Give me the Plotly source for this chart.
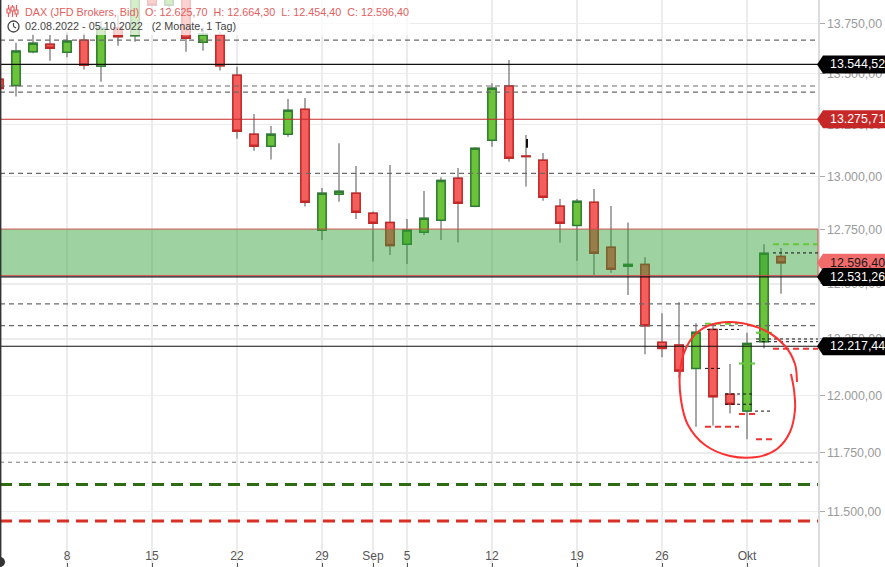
import math
import pandas as pd
import plotly.graph_objects as go

# ---------------- data ----------------
dates = list(pd.bdate_range("2022-08-02", "2022-10-05"))
date_str = [d.strftime("%Y-%m-%d") for d in dates]

open_ = [13471, 13440, 13608, 13645, 13605, 13665, 13535, 13726, 13688, 13900,
         13842, 13910, 13655, 13691, 13491, 13203, 13145, 13203, 13324, 12747,
         12916, 12921, 12827, 12784, 12682, 12738, 12794, 12992, 12860, 13174,
         13438, 13098, 13078, 12860, 12770, 12878, 12668, 12581, 12589, 12235,
         12223, 12119, 12293, 12005, 11931, 12238, 12625.70]
high = [13485, 13653, 13695, 13691, 13705, 13700, 13760, 13790, 13920, 13930,
        13960, 13935, 13730, 13705, 13533, 13301, 13243, 13374, 13379, 12946,
        13159, 13051, 12835, 13055, 12800, 12932, 12997, 13041, 13140, 13452,
        13567, 13199, 13113, 12894, 12894, 12941, 12861, 12784, 12622, 12366,
        12416, 12321, 12307, 12138, 12278, 12682, 12664.30]
low = [13405, 13386, 13600, 13563, 13580, 13519, 13459, 13638, 13657, 13835,
       13830, 13608, 13613, 13514, 13181, 13124, 13081, 13191, 12858, 12702,
       12881, 12800, 12602, 12632, 12591, 12725, 12702, 12690, 12855, 13143,
       13071, 12953, 12886, 12690, 12606, 12540, 12551, 12449, 12182, 12168,
       12077, 11863, 11868, 11921, 11809, 12208, 12454.40]
close = [13426, 13611, 13650, 13625, 13661, 13540, 13725, 13683, 13890, 13842,
         13930, 13675, 13695, 13538, 13217, 13145, 13203, 13319, 12878, 12921,
         12930, 12831, 12780, 12676, 12748, 12803, 12982, 12874, 13135, 13427,
         13087, 13096, 12902, 12780, 12883, 12640, 12567, 12589, 12309, 12208,
         12107, 12280, 11994, 11961, 12230, 12640, 12596.40]

black_levels = [13544.52, 12531.26, 12217.44]
red_levels = [13275.71]
dashed_levels = [13666, 13438, 13408, 13015, 12408, 12310]
fine_dashed_levels = [11710]
support_green = 11615
support_red = 11461
zone_top, zone_bottom = 12753, 12538
badges = [(13544.52, "black"), (13275.71, "red"), (12596.40, "last"),
          (12531.26, "black"), (12217.44, "black")]

# small drawn segments near the circle: (start index, end index, price, kind)
segments = [
    (45.53, 48.18, 12682, "g"), (45.53, 48.18, 12642, "k"),
    (41.53, 43.47, 12318, "g"), (41.65, 43.53, 12293, "k"),
    (44.53, 45.53, 12278, "g"), (44.53, 48.18, 12250, "k"),
    (44.53, 48.18, 12238, "k"), (45.53, 48.18, 12206, "r"),
    (43.53, 44.47, 12141, "g"), (41.53, 42.53, 12119, "k"),
    (42.71, 44.47, 12006, "k"), (42.71, 44.47, 11961, "k"),
    (44.47, 45.53, 11931, "k"), (43.53, 44.53, 11918, "r"),
    (41.53, 43.53, 11863, "r"), (44.53, 45.53, 11809, "r"),
]

y_ticks = [11500, 11750, 12000, 12250, 12500, 12750, 13000, 13250, 13500, 13750]
x_tickvals = ["2022-08-08", "2022-08-15", "2022-08-22", "2022-08-29", "2022-09-01",
              "2022-09-05", "2022-09-12", "2022-09-19", "2022-09-26", "2022-10-03"]
x_ticktext = ["8", "15", "22", "29", "Sep", "5", "12", "19", "26", "Okt"]

Y_MIN, Y_MAX = 11269.5, 13867.7
PW, PH = 818, 567


def de(v):
    s = f"{v:,.2f}"
    return s.replace(",", "X").replace(".", ",").replace("X", ".")


def yp(v):
    return (math.log10(v) - math.log10(Y_MIN)) / (math.log10(Y_MAX) - math.log10(Y_MIN))


all_days = pd.bdate_range("2022-08-02", "2022-10-20")


def xd(f):
    i = math.floor(f)
    d = all_days[i] + pd.Timedelta(days=f - i)
    return d.strftime("%Y-%m-%d %H:%M:%S")


def px(x, y):
    return x / PW, 1 - y / PH


GREEN, GREEN_E = "#6cc33a", "#2e7d32"
RED, RED_E = "#f25f5c", "#c62828"
WICK = "#7a7a7a"

fig = go.Figure()
fig.add_trace(go.Candlestick(
    x=date_str, open=open_, high=high, low=low, close=close,
    increasing=dict(line=dict(color=WICK, width=1.3), fillcolor=GREEN),
    decreasing=dict(line=dict(color=WICK, width=1.3), fillcolor=RED),
    whiskerwidth=0, hoverinfo="skip", showlegend=False))
body_hi = [max(o, c) for o, c in zip(open_, close)]
body_lo = [min(o, c) for o, c in zip(open_, close)]
fig.add_trace(go.Candlestick(
    x=date_str, open=open_, high=body_hi, low=body_lo, close=close,
    increasing=dict(line=dict(color=GREEN_E, width=1.5), fillcolor=GREEN),
    decreasing=dict(line=dict(color=RED_E, width=1.5), fillcolor=RED),
    whiskerwidth=0, hoverinfo="skip", showlegend=False))

shapes = []
# zone
shapes.append(dict(type="rect", xref="paper", yref="paper", x0=0, x1=1,
                   y0=yp(zone_bottom), y1=yp(zone_top),
                   fillcolor="rgba(48,160,54,0.47)",
                   line=dict(color="rgba(215,70,70,0.85)", width=1), layer="above"))


def hline(v, color, width, dash):
    shapes.append(dict(type="line", xref="paper", yref="paper", x0=0, x1=1,
                       y0=yp(v), y1=yp(v), line=dict(color=color, width=width, dash=dash),
                       layer="above"))


for v in dashed_levels:
    hline(v, "#6a6a6a", 1.2, "5px,4px")
for v in fine_dashed_levels:
    hline(v, "#777777", 1, "4px,4px")
for v in black_levels:
    hline(v, "#111111", 1.2, "solid")
for v in red_levels:
    hline(v, "#c62828", 1.2, "solid")
hline(support_green, "#2f6b13", 3, "12px,7px")
hline(support_red, "#d93025", 3, "12px,7px")

seg_style = {"g": ("#66c83a", 2, "6px,4px"), "k": ("#111111", 1, "3px,3px"),
             "r": ("#ee3333", 2, "6px,4px")}
for i0, i1, v, k in segments:
    c, w, d = seg_style[k]
    shapes.append(dict(type="line", xref="x", yref="paper", x0=xd(i0), x1=xd(i1),
                       y0=yp(v), y1=yp(v), line=dict(color=c, width=w, dash=d),
                       layer="above"))

# small black mark on the Sep 14 doji
shapes.append(dict(type="line", xref="x", yref="paper", x0=xd(31.06), x1=xd(31.06),
                   y0=yp(13138), y1=yp(13180), line=dict(color="#111", width=2), layer="above"))

# hand-drawn red circle (decoration, pixel space)
circle_pts = [(797, 382), (795, 364), (785, 346), (766, 331), (741, 323), (718, 323),
              (699, 331), (686, 348), (680, 372), (681, 400), (688, 425), (705, 445),
              (730, 456), (757, 457), (777, 449), (790, 432), (795, 410), (794, 390),
              (791, 374)]
P = [px(x, y) for x, y in circle_pts]
path = f"M {P[0][0]:.5f},{P[0][1]:.5f}"
for i in range(len(P) - 1):
    p0 = P[i - 1] if i > 0 else P[i]
    p1, p2 = P[i], P[i + 1]
    p3 = P[i + 2] if i + 2 < len(P) else P[i + 1]
    c1 = (p1[0] + (p2[0] - p0[0]) / 6, p1[1] + (p2[1] - p0[1]) / 6)
    c2 = (p2[0] - (p3[0] - p1[0]) / 6, p2[1] - (p3[1] - p1[1]) / 6)
    path += f" C {c1[0]:.5f},{c1[1]:.5f} {c2[0]:.5f},{c2[1]:.5f} {p2[0]:.5f},{p2[1]:.5f}"
shapes.append(dict(type="path", xref="paper", yref="paper", path=path,
                   line=dict(color="#ff3030", width=2), layer="above"))

# header fade overlay
x1p, y0p = px(410, 35)
shapes.append(dict(type="rect", xref="paper", yref="paper", x0=0, x1=x1p, y0=y0p, y1=1,
                   fillcolor="rgba(255,255,255,0.72)", line=dict(width=0), layer="above"))

# header icons
for xx, b0, b1 in [(8.5, 9, 13), (12.5, 7, 11), (16.5, 10, 14)]:
    a, t = px(xx, 5)
    _, bt = px(xx, 17)
    shapes.append(dict(type="line", xref="paper", yref="paper", x0=a, x1=a, y0=t, y1=bt,
                       line=dict(color="#e35d5d", width=1.2), layer="above"))
    ra, rt = px(xx - 1.5, b0)
    rb, rbt = px(xx + 1.5, b1)
    shapes.append(dict(type="rect", xref="paper", yref="paper", x0=ra, x1=rb, y0=rbt, y1=rt,
                       fillcolor="white", line=dict(color="#e35d5d", width=1.2), layer="above"))
ca, cb = px(8, 21)
cc, cd = px(19, 32)
shapes.append(dict(type="circle", xref="paper", yref="paper", x0=ca, x1=cc, y0=cd, y1=cb,
                   line=dict(color="#444", width=1.3), layer="above"))
for (xa, ya), (xb, yb) in [((13.5, 26.5), (13.5, 23)), ((13.5, 26.5), (16, 28))]:
    a1, a2 = px(xa, ya)
    b1, b2 = px(xb, yb)
    shapes.append(dict(type="line", xref="paper", yref="paper", x0=a1, x1=b1, y0=a2, y1=b2,
                       line=dict(color="#444", width=1.2), layer="above"))

# left border & corner dot
shapes.append(dict(type="line", xref="paper", yref="paper", x0=0.0008, x1=0.0008, y0=0, y1=1,
                   line=dict(color="#333", width=1.5), layer="above"))
da, db = px(-5, 557)
dc, dd = px(5, 567)
shapes.append(dict(type="circle", xref="paper", yref="paper", x0=da, x1=dc, y0=dd, y1=db,
                   fillcolor="#333", line=dict(width=0), layer="above"))

# price badges
badge_style = {"black": ("#000000", "white"), "red": ("#c62828", "white"),
               "last": ("#f26b6b", "#1a1a1a")}
annotations = []
for v, kind in badges:
    bg, fg = badge_style[kind]
    cy = (1 - yp(v)) * PH
    pts = [(817, cy), (823, cy - 9), (885, cy - 9), (885, cy + 9), (823, cy + 9)]
    pp = [px(x, y) for x, y in pts]
    bpath = "M " + " L ".join(f"{a:.5f},{b:.5f}" for a, b in pp) + " Z"
    shapes.append(dict(type="path", xref="paper", yref="paper", path=bpath,
                       fillcolor=bg, line=dict(width=0), layer="above"))
    annotations.append(dict(xref="paper", yref="paper", x=828 / PW, y=yp(v), text=de(v),
                            showarrow=False, xanchor="left", yanchor="middle",
                            font=dict(family="Liberation Sans, Arial", size=12.4, color=fg)))

# header text
HF = "Liberation Sans, Arial"
hdr_red = "#e35d5d"
NB = "\u00a0"
line1 = (NB * 2).join(["DAX (JFD Brokers, Bid)", "O: " + de(open_[-1]),
                       "H: " + de(high[-1]), "L: " + de(low[-1]), "C: " + de(close[-1])])
annotations.append(dict(xref="paper", yref="paper", x=24 / PW, y=1 - 11.5 / PH, text=line1,
                        showarrow=False, xanchor="left", yanchor="middle", borderpad=0,
                        font=dict(family=HF, size=10.8, color=hdr_red)))
line2 = (f"{dates[0]:%d.%m.%Y} - {dates[-1]:%d.%m.%Y}" + NB * 3 + "(2 Monate, 1 Tag)")
annotations.append(dict(xref="paper", yref="paper", x=24 / PW, y=1 - 26.5 / PH, text=line2,
                        showarrow=False, xanchor="left", yanchor="middle", borderpad=0,
                        font=dict(family=HF, size=10.8, color="#444444")))

fig.update_layout(
    width=885, height=567, template="none",
    margin=dict(l=0, r=67, t=0, b=0, pad=0),
    paper_bgcolor="white", plot_bgcolor="white",
    showlegend=False, separators=",.",
    font=dict(family=HF),
    shapes=shapes, annotations=annotations,
    xaxis=dict(type="date", range=[xd(1 / 17), xd(819 / 17)],
               rangebreaks=[dict(bounds=["sat", "mon"])],
               tickmode="array", tickvals=x_tickvals, ticktext=x_ticktext,
               ticklabelposition="inside", ticks="inside", ticklen=4, tickcolor="#555",
               tickfont=dict(family=HF, size=12, color="#555555"),
               showgrid=True, gridcolor="#ececec", gridwidth=1.5,
               showline=False, zeroline=False, rangeslider=dict(visible=False),
               automargin=False, fixedrange=True),
    yaxis=dict(type="log", side="right",
               range=[math.log10(Y_MIN), math.log10(Y_MAX)],
               tickmode="array", tickvals=y_ticks, ticktext=[de(v) for v in y_ticks],
               ticks="outside", ticklen=5, tickcolor="#aaaaaa",
               tickfont=dict(family=HF, size=12.4, color="#9a9a9a"),
               showgrid=True, gridcolor="#ececec", gridwidth=1.5,
               showline=True, linecolor="#dcdcdc", linewidth=1.5,
               zeroline=False, automargin=False, fixedrange=True),
)

fig.write_html(
    "out.html",
    config={"displayModeBar": False, "staticPlot": True},
    post_script="document.body.style.margin='0';document.body.style.overflow='hidden';",
)
